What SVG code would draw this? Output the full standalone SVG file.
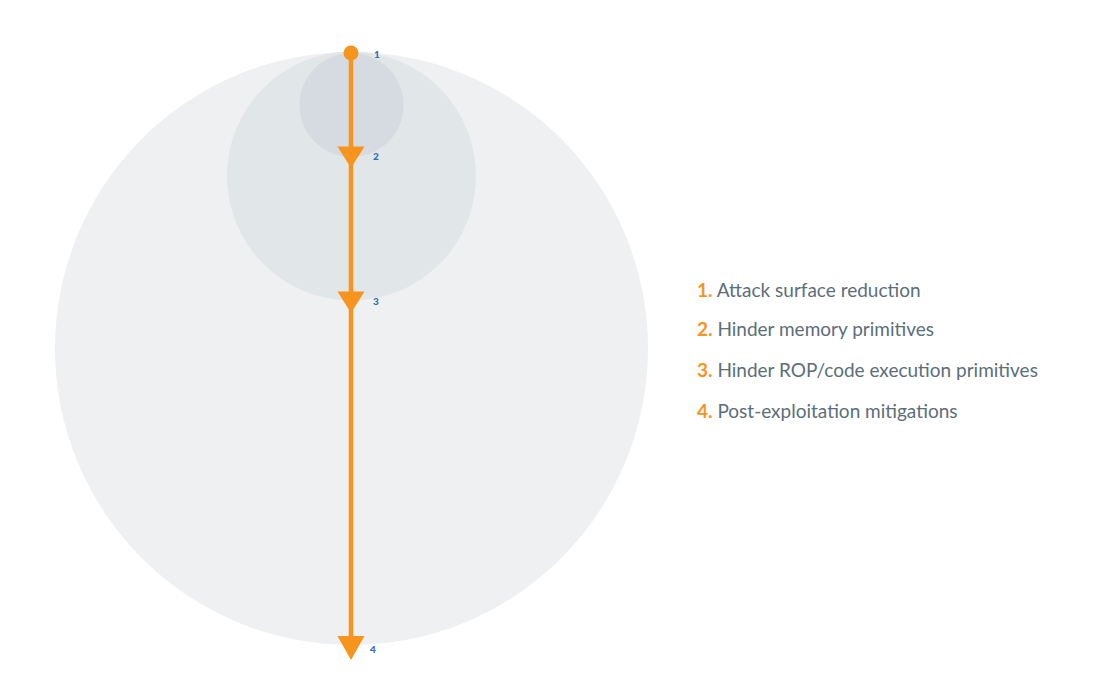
<svg xmlns="http://www.w3.org/2000/svg" width="1093" height="695" viewBox="0 0 1093 695">
<style>
.num{font-family:Lato,"Open Sans",sans-serif;font-size:10px;font-weight:900;fill:#2f6fb5}
.leg{font-family:Lato,"Open Sans",sans-serif;font-size:19px;fill:#5b6e79}
.lnum{fill:#f7941d;font-weight:bold}
.arr{fill:#f7941d}
</style>
<rect width="1093" height="695" fill="#ffffff"/>
<g id="circle-outer"><circle cx="351.5" cy="348.5" r="296.5" fill="#eef0f1"/></g>
<g id="circle-middle"><circle cx="351.5" cy="176" r="124.5" fill="#e1e6e9"/></g>
<g id="circle-inner"><circle cx="351.5" cy="105" r="52" fill="#d5dbe0"/></g>
<g id="connectors">
<line x1="351" y1="53" x2="351" y2="645" stroke="#f7941d" stroke-width="4.5"/>
<circle cx="351" cy="53" r="7.5" class="arr"/>
<polygon class="arr" points="337.5,146.5 364.5,146.5 351,168"/>
<polygon class="arr" points="337.5,291.5 364.5,291.5 351,313"/>
<polygon class="arr" points="337.5,636 364.5,636 351,660"/>
</g>
<g id="labels">
<text class="num" x="374" y="58">1</text>
<text class="num" x="373" y="160">2</text>
<text class="num" x="373" y="305">3</text>
<text class="num" x="370" y="653">4</text>
</g>
<g id="legend">
<text class="leg" x="697" y="297"><tspan class="lnum">1.</tspan> Attack surface reduction</text>
<text class="leg" x="697" y="336"><tspan class="lnum">2.</tspan> Hinder memory primitives</text>
<text class="leg" x="697" y="377"><tspan class="lnum">3.</tspan> Hinder ROP/code execution primitives</text>
<text class="leg" x="697" y="418"><tspan class="lnum">4.</tspan> Post-exploitation mitigations</text>
</g>
</svg>
